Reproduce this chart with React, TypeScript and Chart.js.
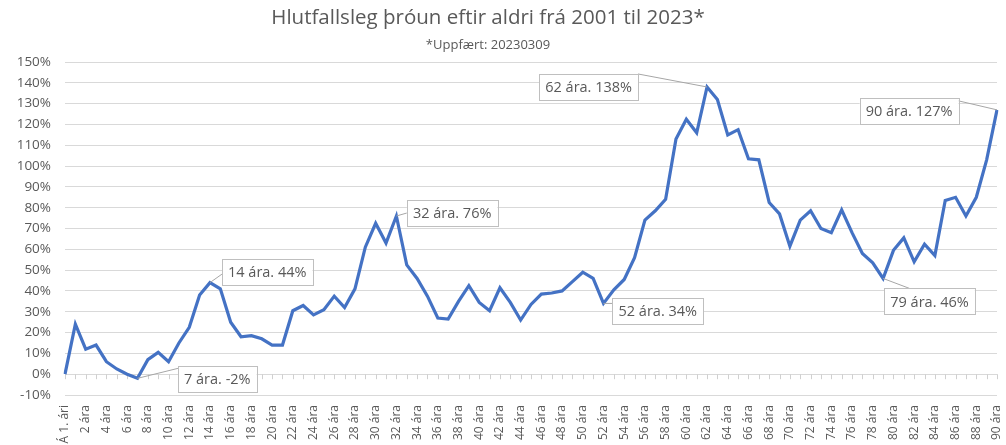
import React, { useEffect, useRef } from "react";
import { Chart, registerables } from "chart.js";

Chart.register(...registerables);

const TITLE = "Hlutfallsleg þróun eftir aldri frá 2001 til 2023*";
const SUBTITLE = "*Uppfært: 20230309";

const ageLabels = [
  "Á 1. ári", "1 ára", "2 ára", "3 ára", "4 ára", "5 ára", "6 ára", "7 ára", "8 ára", "9 ára",
  "10 ára", "11 ára", "12 ára", "13 ára", "14 ára", "15 ára", "16 ára", "17 ára", "18 ára", "19 ára",
  "20 ára", "21 ára", "22 ára", "23 ára", "24 ára", "25 ára", "26 ára", "27 ára", "28 ára", "29 ára",
  "30 ára", "31 ára", "32 ára", "33 ára", "34 ára", "35 ára", "36 ára", "37 ára", "38 ára", "39 ára",
  "40 ára", "41 ára", "42 ára", "43 ára", "44 ára", "45 ára", "46 ára", "47 ára", "48 ára", "49 ára",
  "50 ára", "51 ára", "52 ára", "53 ára", "54 ára", "55 ára", "56 ára", "57 ára", "58 ára", "59 ára",
  "60 ára", "61 ára", "62 ára", "63 ára", "64 ára", "65 ára", "66 ára", "67 ára", "68 ára", "69 ára",
  "70 ára", "71 ára", "72 ára", "73 ára", "74 ára", "75 ára", "76 ára", "77 ára", "78 ára", "79 ára",
  "80 ára", "81 ára", "82 ára", "83 ára", "84 ára", "85 ára", "86 ára", "87 ára", "88 ára", "89 ára",
  "90 ára",
];

// Percentage change by age (0..90)
const changePct = [
  0, 24, 12, 14, 6, 2.5, 0, -2, 7, 10.5,
  6, 15, 22.5, 38, 44, 41, 25, 18, 18.5, 17,
  14, 14, 30.5, 33, 28.5, 31, 37.5, 32, 41, 61,
  72.5, 63, 76, 52.5, 46, 37.5, 27, 26.5, 35, 42.5,
  34.5, 30.5, 41.5, 34.5, 26, 33.5, 38.5, 39, 40, 44.5,
  49, 46, 34, 40.5, 45.5, 56, 74, 78.5, 84, 113,
  122.5, 116, 138, 132, 115, 117.5, 103.5, 103, 82.5, 77,
  61.5, 74, 78.5, 70, 68, 79, 68, 58, 53.5, 46,
  59.5, 65.5, 54, 62.5, 57, 83.5, 85, 76, 85, 103,
  127,
];

const yTickMin = -10;
const yTickMax = 150;
const yTickStep = 10;

// Data callouts: index of point + label text
const calloutIdx = [7, 14, 32, 52, 62, 79, 90];
const calloutText = ["7 ára. -2%", "14 ára. 44%", "32 ára. 76%", "52 ára. 34%", "62 ára. 138%", "79 ára. 46%", "90 ára. 127%"];
// leader end offset from point (px) and attachment fraction on box
const calloutStyle = [
  { lx: 40.5, ly: -10, ax: 0, ay: 0.08 },
  { lx: 12, ly: -8.5, ax: 0, ay: 0.6 },
  { lx: 10.5, ly: -3, ax: 0, ay: 0.5 },
  { lx: 9, ly: 0, ax: 0, ay: 0.2 },
  { lx: -69, ly: -13, ax: 1, ay: 0 },
  { lx: 26.5, ly: 10, ax: 0.28, ay: 0 },
  { lx: -38.5, ly: -9, ax: 1, ay: 0.1 },
];

const FONT = "'Open Sans', 'Noto Sans', sans-serif";
const TEXT_COLOR = "#595959";

const titlePlugin = {
  id: "customTitle",
  afterDraw(chart: any) {
    const ctx = chart.ctx;
    ctx.save();
    ctx.fillStyle = TEXT_COLOR;
    ctx.textAlign = "center";
    ctx.textBaseline = "middle";
    ctx.font = `20.5px ${FONT}`;
    ctx.fillText(TITLE, 488, 18);
    ctx.font = `13px ${FONT}`;
    ctx.fillText(SUBTITLE, 488, 45);
    ctx.restore();
  },
};

const zeroTicksPlugin = {
  id: "zeroTicks",
  beforeDatasetsDraw(chart: any) {
    const ctx = chart.ctx;
    const x = chart.scales.x;
    const y = chart.scales.y;
    const y0 = y.getPixelForValue(0);
    ctx.save();
    ctx.strokeStyle = "#d0d0d0";
    ctx.lineWidth = 1;
    ctx.beginPath();
    for (let i = 0; i < ageLabels.length; i++) {
      const px = Math.round(x.getPixelForValue(i)) + 0.5;
      ctx.moveTo(px, y0);
      ctx.lineTo(px, y0 + 5);
    }
    ctx.stroke();
    ctx.restore();
  },
};

const calloutPlugin = {
  id: "callouts",
  afterDatasetsDraw(chart: any) {
    const ctx = chart.ctx;
    const meta = chart.getDatasetMeta(0);
    ctx.save();
    ctx.font = `14.5px ${FONT}`;
    calloutIdx.forEach((idx, k) => {
      const pt = meta.data[idx];
      const st = calloutStyle[k];
      const text = calloutText[k];
      const w = ctx.measureText(text).width + 12;
      const h = 26;
      const ex = pt.x + st.lx;
      const ey = pt.y + st.ly;
      const bx = ex - st.ax * w;
      const by = ey - st.ay * h;
      ctx.strokeStyle = "#a6a6a6";
      ctx.lineWidth = 1;
      ctx.beginPath();
      ctx.moveTo(pt.x, pt.y);
      ctx.lineTo(ex, ey);
      ctx.stroke();
      ctx.fillStyle = "#ffffff";
      ctx.fillRect(bx, by, w, h);
      ctx.strokeStyle = "#bfbfbf";
      ctx.strokeRect(Math.round(bx) + 0.5, Math.round(by) + 0.5, Math.round(w), h);
      ctx.fillStyle = TEXT_COLOR;
      ctx.textAlign = "center";
      ctx.textBaseline = "middle";
      ctx.fillText(text, bx + w / 2, by + h / 2 + 1);
    });
    ctx.restore();
  },
};

export default function App() {
  const canvasRef = useRef<HTMLCanvasElement | null>(null);

  useEffect(() => {
    if (!canvasRef.current) return;
    const chart = new Chart(canvasRef.current, {
      type: "line",
      data: {
        labels: ageLabels,
        datasets: [
          {
            data: changePct,
            borderColor: "#4472c4",
            borderWidth: 3.2,
            pointRadius: 0,
            tension: 0,
            fill: false,
          },
        ],
      },
      options: {
        responsive: false,
        animation: false,
        layout: { padding: { top: 62, right: 9, left: 0, bottom: 0 } },
        plugins: {
          legend: { display: false },
          title: { display: false },
          tooltip: { enabled: false },
        },
        scales: {
          x: {
            offset: false,
            grid: { display: false },
            border: { display: false },
            ticks: {
              autoSkip: false,
              maxRotation: 90,
              minRotation: 90,
              padding: 2,
              color: TEXT_COLOR,
              font: { family: FONT, size: 12 },
              callback: (_v: any, i: number) => (i % 2 === 0 ? ageLabels[i] : ""),
            },
            afterFit: (scale: any) => {
              scale.height = 50;
              scale.paddingLeft = 0;
              scale.paddingRight = 0;
            },
          },
          y: {
            min: yTickMin,
            max: yTickMax,
            border: { display: false },
            grid: { color: "#d9d9d9", lineWidth: 1, drawTicks: false },
            ticks: {
              stepSize: yTickStep,
              padding: 14,
              color: TEXT_COLOR,
              font: { family: FONT, size: 13.5 },
              callback: (v: any) => `${v}%`,
            },
            afterFit: (scale: any) => {
              scale.width = 65;
              scale.paddingTop = 0;
              scale.paddingBottom = 0;
            },
          },
        },
      },
      plugins: [titlePlugin, zeroTicksPlugin, calloutPlugin],
    });
    return () => chart.destroy();
  }, []);

  return (
    <div style={{ position: "fixed", left: 0, top: 0, width: 1006, height: 445, background: "#fff" }}>
      <canvas ref={canvasRef} width={1006} height={445} />
    </div>
  );
}
